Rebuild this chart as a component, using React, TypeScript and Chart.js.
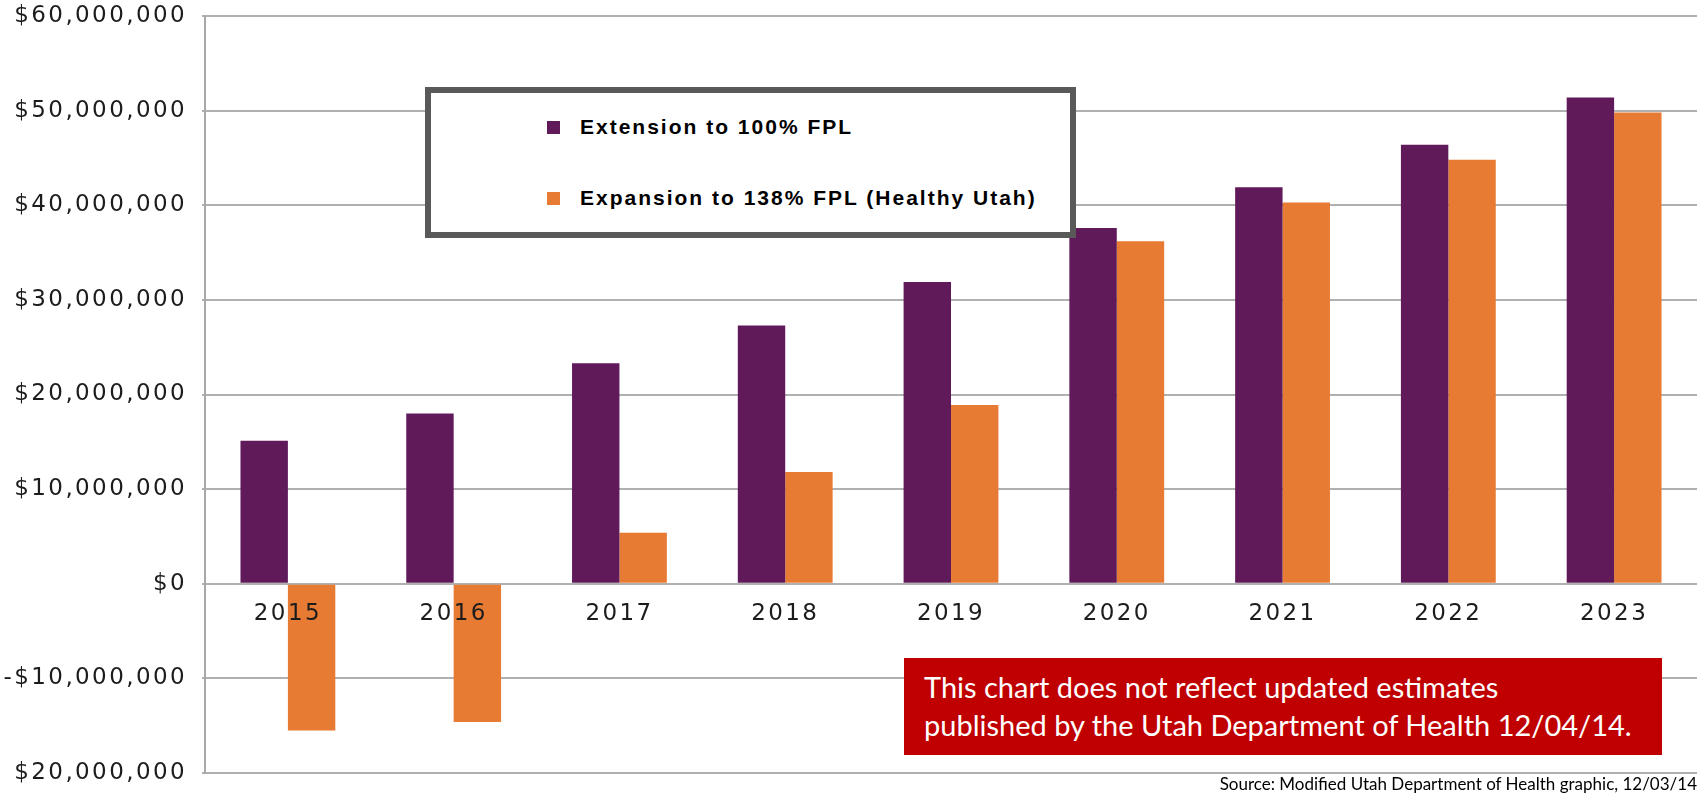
import React, { useEffect, useRef } from 'react';
import { Chart, registerables } from 'chart.js';

Chart.register(...registerables);

const years = ['2015', '2016', '2017', '2018', '2019', '2020', '2021', '2022', '2023'];
const extension100 = [15100000, 18000000, 23300000, 27300000, 31900000, 37600000, 41900000, 46400000, 51400000];
const expansion138 = [-15500000, -14600000, 5400000, 11800000, 18900000, 36200000, 40300000, 44800000, 49800000];
const seriesLabels = ['Extension to 100% FPL', 'Expansion to 138% FPL (Healthy Utah)'];
const seriesColors = ['#601A5A', '#E87B33'];
const yTickValues = [60000000, 50000000, 40000000, 30000000, 20000000, 10000000, 0, -10000000, -20000000];
const yTickLabels = ['$60,000,000', '$50,000,000', '$40,000,000', '$30,000,000', '$20,000,000', '$10,000,000', '$0', '-$10,000,000', '$20,000,000'];
const noteLines = ['This chart does not reflect updated estimates', 'published by the Utah Department of Health 12/04/14.'];
const sourceText = 'Source: Modified Utah Department of Health graphic, 12/03/14';

const spacingPlugin = {
  id: 'letterSpacingPlugin',
  beforeLayout(chart: any) {
    chart.ctx.letterSpacing = '2.4px';
  },
  beforeDraw(chart: any) {
    chart.ctx.letterSpacing = '2.4px';
  },
};

export default function App() {
  const canvasRef = useRef<HTMLCanvasElement>(null);

  useEffect(() => {
    const canvas = canvasRef.current;
    if (!canvas) return;
    const tickFont = { family: '"DejaVu Sans"', size: 23 };
    const chart = new Chart(canvas, {
      type: 'bar',
      data: {
        labels: years,
        datasets: [
          { label: seriesLabels[0], data: extension100, backgroundColor: seriesColors[0], borderWidth: 0 },
          { label: seriesLabels[1], data: expansion138, backgroundColor: seriesColors[1], borderWidth: 0 },
        ],
      },
      options: {
        responsive: false,
        maintainAspectRatio: false,
        animation: false,
        layout: { padding: { top: 16, right: 7, bottom: 20, left: 0 } },
        plugins: { legend: { display: false }, tooltip: { enabled: false } },
        datasets: { bar: { categoryPercentage: 0.572, barPercentage: 1 } },
        scales: {
          x: {
            position: { y: 0 },
            grid: { display: false, drawTicks: false },
            border: { display: false },
            afterFit(scale: any) {
              scale.paddingLeft = 0;
              scale.paddingRight = 0;
              scale.paddingTop = 0;
              scale.paddingBottom = 0;
            },
            ticks: { z: 1, font: tickFont, color: '#1c1c1c', padding: 16, maxRotation: 0, autoSkip: false },
          },
          y: {
            min: -20000000,
            max: 60000000,
            afterFit(scale: any) {
              scale.width = 205;
              scale.paddingTop = 0;
              scale.paddingBottom = 0;
            },
            afterBuildTicks(scale: any) {
              scale.ticks = yTickValues.slice().reverse().map((v) => ({ value: v }));
            },
            grid: { color: '#B0B0B0', lineWidth: 2, tickLength: 3, drawTicks: true },
            border: { display: true, color: '#A8A8A8', width: 2 },
            ticks: {
              font: tickFont,
              color: '#1c1c1c',
              padding: 15,
              callback: (v: any) => {
                const i = yTickValues.indexOf(Number(v));
                return i >= 0 ? yTickLabels[i] : '';
              },
            },
          },
        },
      },
      plugins: [spacingPlugin],
    } as any);
    return () => chart.destroy();
  }, []);

  const legendText: React.CSSProperties = {
    position: 'absolute',
    left: 580,
    font: 'bold 21px "Liberation Sans", Arial, sans-serif',
    letterSpacing: '2px',
    lineHeight: '26px',
    color: '#000',
    whiteSpace: 'nowrap',
  };

  return (
    <div style={{ position: 'absolute', left: 0, top: 0, width: 1704, height: 793, overflow: 'hidden', background: '#fff' }}>
      <canvas ref={canvasRef} width={1704} height={793} style={{ position: 'absolute', left: 0, top: 0, width: 1704, height: 793 }} />
      <div
        style={{
          position: 'absolute',
          left: 425,
          top: 87,
          width: 651,
          height: 151,
          boxSizing: 'border-box',
          border: '6px solid #595959',
          background: '#fff',
        }}
      />
      {seriesLabels.map((lab, i) => (
        <React.Fragment key={lab}>
          <div style={{ position: 'absolute', left: 547, top: (i === 0 ? 127 : 198) - 6.5, width: 13, height: 13, background: seriesColors[i] }} />
          <div style={{ ...legendText, top: (i === 0 ? 127 : 198) - 13 }}>{lab}</div>
        </React.Fragment>
      ))}
      <div
        style={{
          position: 'absolute',
          left: 904,
          top: 658,
          width: 758,
          height: 97,
          background: '#C00000',
        }}
      />
      <div
        style={{
          position: 'absolute',
          left: 924,
          top: 667.5,
          font: '29px Lato, sans-serif',
          lineHeight: '38.5px',
          color: '#fff',
          whiteSpace: 'nowrap',
        }}
      >
        {noteLines.map((l) => (
          <div key={l}>{l}</div>
        ))}
      </div>
      <div
        style={{
          position: 'absolute',
          right: 7,
          top: 774,
          font: '17px Lato, sans-serif',
          lineHeight: '20px',
          color: '#000',
          whiteSpace: 'nowrap',
        }}
      >
        {sourceText}
      </div>
    </div>
  );
}
